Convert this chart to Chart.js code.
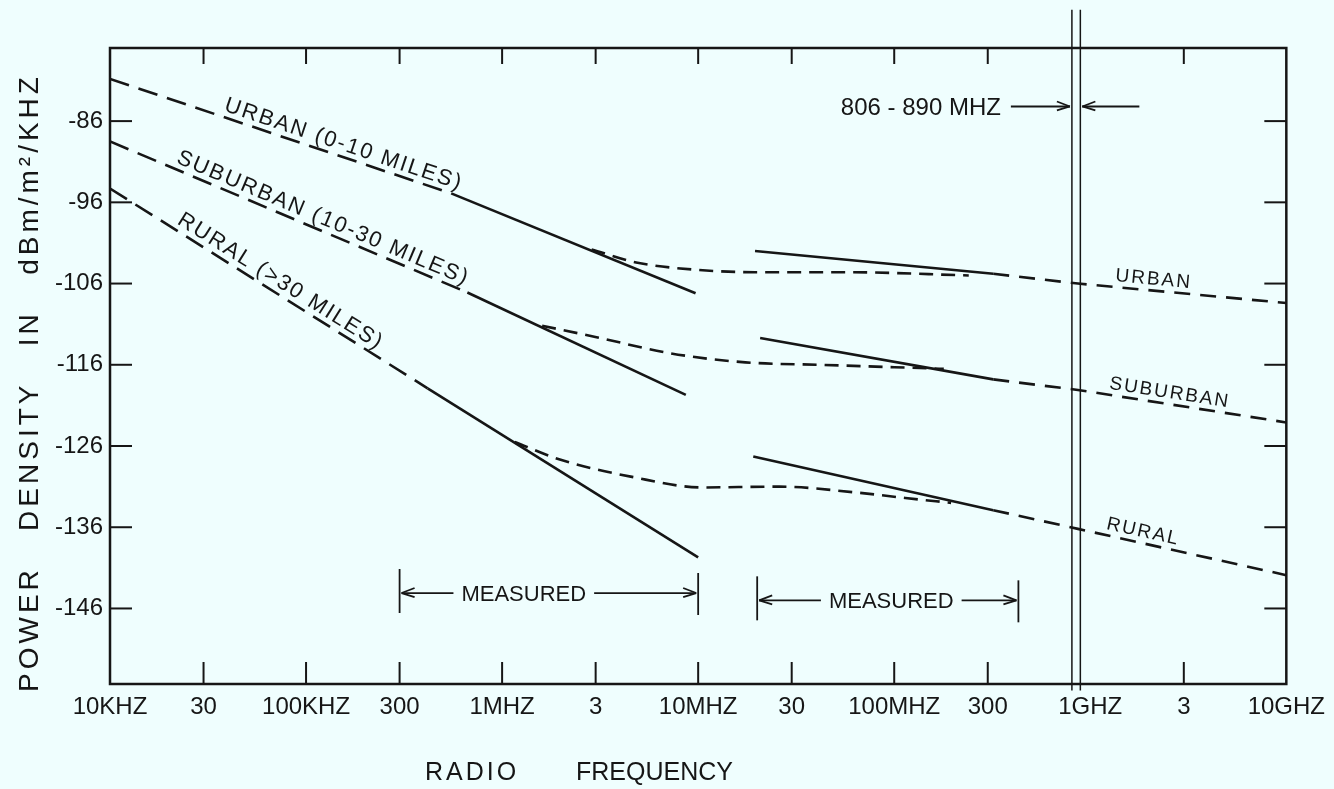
<!DOCTYPE html>
<html>
<head>
<meta charset="utf-8">
<title>Power density vs radio frequency</title>
<script src="https://cdn.jsdelivr.net/npm/chart.js@4.4.1/dist/chart.umd.min.js"></script>
<style>
    html, body { margin: 0; padding: 0; background: #effefe; }
    #wrap { width: 1334px; height: 789px; }
</style>
</head>
<body>
<div id="wrap"><canvas id="chart" width="1334" height="789"></canvas></div>
<script>
// Axis ticks
const xTickValues = [1e4, 3e4, 1e5, 3e5, 1e6, 3e6, 1e7, 3e7, 1e8, 3e8, 1e9, 3e9, 1e10];
const xTickLabels = ['10KHZ', '30', '100KHZ', '300', '1MHZ', '3', '10MHZ', '30', '100MHZ', '300', '1GHZ', '3', '10GHZ'];
const yTickValues = [-146, -136, -126, -116, -106, -96, -86];

// Urban (0-10 miles)
const urbanExtrapFreq = [1e4, 5.5e5];
const urbanExtrapDb = [-80.8, -94.9];
const urbanLowFreq = [5.5e5, 9.7e6];
const urbanLowDb = [-94.9, -107.2];
const urbanTransFreq = [2.86e6, 4.83e6, 9.7e6, 1.95e7, 5.58e7, 2.4e8];
const urbanTransDb = [-101.8, -103.4, -104.3, -104.6, -104.6, -105.0];
const urbanHighFreq = [1.95e7, 3.2e8];
const urbanHighDb = [-102.0, -104.8];
const urbanExtFreq = [3.2e8, 8.65e8, 1e10];
const urbanExtDb = [-104.8, -106.0, -108.4];

// Suburban (10-30 miles)
const suburbanExtrapFreq = [1e4, 6.65e5];
const suburbanExtrapDb = [-88.5, -107.1];
const suburbanLowFreq = [6.65e5, 8.65e6];
const suburbanLowDb = [-107.1, -119.7];
const suburbanTransFreq = [1.6e6, 3.03e6, 7.26e6, 1.74e7, 4.17e7, 1.0e8, 1.79e8];
const suburbanTransDb = [-111.2, -112.6, -114.6, -115.7, -116.0, -116.3, -116.5];
const suburbanHighFreq = [2.07e7, 3.2e8];
const suburbanHighDb = [-112.7, -117.8];
const suburbanExtFreq = [3.2e8, 8.65e8, 1e10];
const suburbanExtDb = [-117.8, -119.1, -123.1];

// Rural (>30 miles)
const ruralExtrapFreq = [1e4, 4.17e5];
const ruralExtrapDb = [-94.3, -118.9];
const ruralLowFreq = [4.17e5, 1e7];
const ruralLowDb = [-118.9, -139.7];
const ruralTransFreq = [1.16e6, 1.99e6, 4.6e6, 1.05e7, 2.59e7, 6.27e7, 1.14e8, 1.95e8];
const ruralTransDb = [-125.5, -127.7, -129.8, -131.1, -131.0, -131.7, -132.4, -133.0];
const ruralHighFreq = [1.91e7, 3.2e8];
const ruralHighDb = [-127.3, -133.9];
const ruralExtFreq = [3.2e8, 8.65e8, 1e10];
const ruralExtDb = [-133.9, -136.2, -141.9];

// 806-890 MHz band and measured ranges
const bandFreq = [806e6, 890e6];
const bandDb = [-72.3, -156.1];
const measuredLow = [3e5, 1e7];
const measuredHigh = [2e7, 4.3e8];

const INK = '#161616';
const PAPER = '#effefe';
const FONT = "'Liberation Sans', Arial, sans-serif";

function seg(label, freqs, dbs, extra) {
    return Object.assign({
        label: label,
        data: freqs.map((f, i) => ({ x: f, y: dbs[i] })),
        borderColor: INK,
        borderWidth: 2.6,
        pointRadius: 0,
        fill: false,
        tension: 0
    }, extra || {});
}

const extrapStyle = { borderDash: [20, 10] };
const transStyle = { borderDash: [14, 8], cubicInterpolationMode: 'monotone' };
const extStyle = { borderDash: [16, 10] };
const bandStyle = { borderWidth: 1.5, clip: false };

const datasets = [
    seg('Urban extrapolated', urbanExtrapFreq, urbanExtrapDb, extrapStyle),
    seg('Urban measured', urbanLowFreq, urbanLowDb),
    seg('Urban transition', urbanTransFreq, urbanTransDb, transStyle),
    seg('Urban measured high', urbanHighFreq, urbanHighDb),
    seg('Urban extended', urbanExtFreq, urbanExtDb, extStyle),
    seg('Suburban extrapolated', suburbanExtrapFreq, suburbanExtrapDb, extrapStyle),
    seg('Suburban measured', suburbanLowFreq, suburbanLowDb),
    seg('Suburban transition', suburbanTransFreq, suburbanTransDb, transStyle),
    seg('Suburban measured high', suburbanHighFreq, suburbanHighDb),
    seg('Suburban extended', suburbanExtFreq, suburbanExtDb, extStyle),
    seg('Rural extrapolated', ruralExtrapFreq, ruralExtrapDb, extrapStyle),
    seg('Rural measured', ruralLowFreq, ruralLowDb),
    seg('Rural transition', ruralTransFreq, ruralTransDb, transStyle),
    seg('Rural measured high', ruralHighFreq, ruralHighDb),
    seg('Rural extended', ruralExtFreq, ruralExtDb, extStyle),
    seg('806 MHz', [bandFreq[0], bandFreq[0]], bandDb, bandStyle),
    seg('890 MHz', [bandFreq[1], bandFreq[1]], bandDb, bandStyle)
];

// Labels written along the curves
const curveLabels = [
    { text: 'URBAN (0-10 MILES)', freqs: urbanExtrapFreq, dbs: urbanExtrapDb, at: 3.7e4, size: 22 },
    { text: 'SUBURBAN (10-30 MILES)', freqs: suburbanExtrapFreq, dbs: suburbanExtrapDb, at: 2.1e4, size: 22 },
    { text: 'RURAL (>30 MILES)', freqs: ruralExtrapFreq, dbs: ruralExtrapDb, at: 2.1e4, size: 22 },
    { text: 'URBAN', freqs: urbanExtFreq.slice(1), dbs: urbanExtDb.slice(1), at: 1.33e9, size: 19 },
    { text: 'SUBURBAN', freqs: suburbanExtFreq.slice(1), dbs: suburbanExtDb.slice(1), at: 1.23e9, size: 19 },
    { text: 'RURAL', freqs: ruralExtFreq.slice(1), dbs: ruralExtDb.slice(1), at: 1.18e9, size: 19 }
];

function strokeLine(ctx, x0, y0, x1, y1) {
    ctx.beginPath();
    ctx.moveTo(x0, y0);
    ctx.lineTo(x1, y1);
    ctx.stroke();
}

// open arrow from x0 to x1, head at x1
function arrow(ctx, x0, x1, y) {
    const dir = x1 > x0 ? 1 : -1;
    strokeLine(ctx, x0, y, x1, y);
    strokeLine(ctx, x1, y, x1 - dir * 13, y - 5);
    strokeLine(ctx, x1, y, x1 - dir * 13, y + 4);
}

function measuredBracket(ctx, xs, ys, range, centerFreq, db) {
    const x0 = xs.getPixelForValue(range[0]);
    const x1 = xs.getPixelForValue(range[1]);
    const cx = xs.getPixelForValue(centerFreq);
    const py = ys.getPixelForValue(db);
    ctx.font = '22px ' + FONT;
    const w = ctx.measureText('MEASURED').width;
    strokeLine(ctx, x0, py - 24, x0, py + 20);
    strokeLine(ctx, x1, py - 20, x1, py + 22);
    arrow(ctx, cx - w / 2 - 8, x0 + 2, py);
    arrow(ctx, cx + w / 2 + 8, x1 - 2, py);
    ctx.fillText('MEASURED', cx - w / 2, py + 8);
}

const paperPlugin = {
    id: 'paper',
    beforeDraw(chart) {
        const ctx = chart.ctx;
        ctx.save();
        ctx.fillStyle = PAPER;
        ctx.fillRect(0, 0, chart.width, chart.height);
        ctx.restore();
    },
    afterDatasetsDraw(chart) {
        const ctx = chart.ctx;
        const a = chart.chartArea;
        const xs = chart.scales.x;
        const ys = chart.scales.y;
        ctx.save();
        ctx.strokeStyle = INK;
        ctx.fillStyle = INK;

        // Frame
        ctx.lineWidth = 2.5;
        ctx.strokeRect(a.left, a.top, a.right - a.left, a.bottom - a.top);

        // Inward tick marks
        ctx.lineWidth = 2;
        xs.ticks.forEach(t => {
            if (t.value <= xs.min || t.value >= xs.max || t.value === 1e9) return;
            const px = xs.getPixelForValue(t.value);
            strokeLine(ctx, px, a.bottom, px, a.bottom - 22);
            strokeLine(ctx, px, a.top, px, a.top + 16);
        });
        ys.ticks.forEach(t => {
            const py = ys.getPixelForValue(t.value);
            strokeLine(ctx, a.left, py, a.left + 22, py);
            strokeLine(ctx, a.right, py, a.right - 22, py);
        });

        // Curve labels
        curveLabels.forEach(l => {
            const p0 = { x: xs.getPixelForValue(l.freqs[0]), y: ys.getPixelForValue(l.dbs[0]) };
            const p1 = { x: xs.getPixelForValue(l.freqs[1]), y: ys.getPixelForValue(l.dbs[1]) };
            const slope = (p1.y - p0.y) / (p1.x - p0.x);
            const sx = xs.getPixelForValue(l.at);
            const sy = p0.y + (sx - p0.x) * slope;
            ctx.save();
            ctx.translate(sx, sy);
            ctx.rotate(Math.atan(slope));
            ctx.font = l.size + 'px ' + FONT;
            ctx.letterSpacing = '2px';
            ctx.fillText(l.text, 0, -6);
            ctx.restore();
        });

        // 806-890 MHz band label with arrows
        ctx.lineWidth = 1.8;
        const bandY = ys.getPixelForValue(-84.2);
        const bx0 = xs.getPixelForValue(bandFreq[0]);
        const bx1 = xs.getPixelForValue(bandFreq[1]);
        ctx.font = '24px ' + FONT;
        const bandText = '806 - 890 MHZ';
        const tEnd = xs.getPixelForValue(3.5e8);
        ctx.fillText(bandText, tEnd - ctx.measureText(bandText).width, bandY + 9);
        arrow(ctx, tEnd + 10, bx0 - 2, bandY);
        arrow(ctx, xs.getPixelForValue(1.78e9), bx1 + 2, bandY);

        // Measured ranges
        measuredBracket(ctx, xs, ys, measuredLow, 1.29e6, -144.1);
        measuredBracket(ctx, xs, ys, measuredHigh, 9.66e7, -145.0);

        // Axis titles
        ctx.font = '25px ' + FONT;
        ctx.letterSpacing = '3px';
        ctx.fillText('RADIO', 425, 780);
        ctx.letterSpacing = '0px';
        ctx.fillText('FREQUENCY', 576, 780);

        ctx.save();
        ctx.translate(30, a.bottom + 8);
        ctx.rotate(-Math.PI / 2);
        ctx.font = '28px ' + FONT;
        ctx.letterSpacing = '4px';
        ctx.textBaseline = 'middle';
        ctx.fillText('POWER   DENSITY   IN   dBm/m²/KHZ', 0, 0);
        ctx.restore();

        ctx.restore();
    }
};

const chart = new Chart(document.getElementById('chart').getContext('2d'), {
    type: 'line',
    data: { datasets: datasets },
    options: {
        responsive: false,
        animation: false,
        devicePixelRatio: 1,
        layout: { padding: { top: 48, right: 39, left: 0, bottom: 0 } },
        plugins: {
            legend: { display: false },
            tooltip: { enabled: false }
        },
        scales: {
            x: {
                type: 'logarithmic',
                min: 1e4,
                max: 1e10,
                afterBuildTicks: s => { s.ticks = xTickValues.map(v => ({ value: v })); },
                afterFit: s => { s.height = 105; },
                grid: { display: false, drawTicks: false },
                border: { display: false },
                ticks: {
                    autoSkip: false,
                    maxRotation: 0,
                    minRotation: 0,
                    padding: 9,
                    color: INK,
                    font: { family: FONT, size: 24 },
                    callback: (v, i) => xTickLabels[i]
                }
            },
            y: {
                type: 'linear',
                min: -155.3,
                max: -77.0,
                afterBuildTicks: s => { s.ticks = yTickValues.map(v => ({ value: v })); },
                afterFit: s => { s.width = 110; },
                grid: { display: false, drawTicks: false },
                border: { display: false },
                ticks: {
                    padding: 7,
                    color: INK,
                    font: { family: FONT, size: 24 },
                    callback: v => String(v)
                }
            }
        }
    },
    plugins: [paperPlugin]
});
</script>
</body>
</html>
